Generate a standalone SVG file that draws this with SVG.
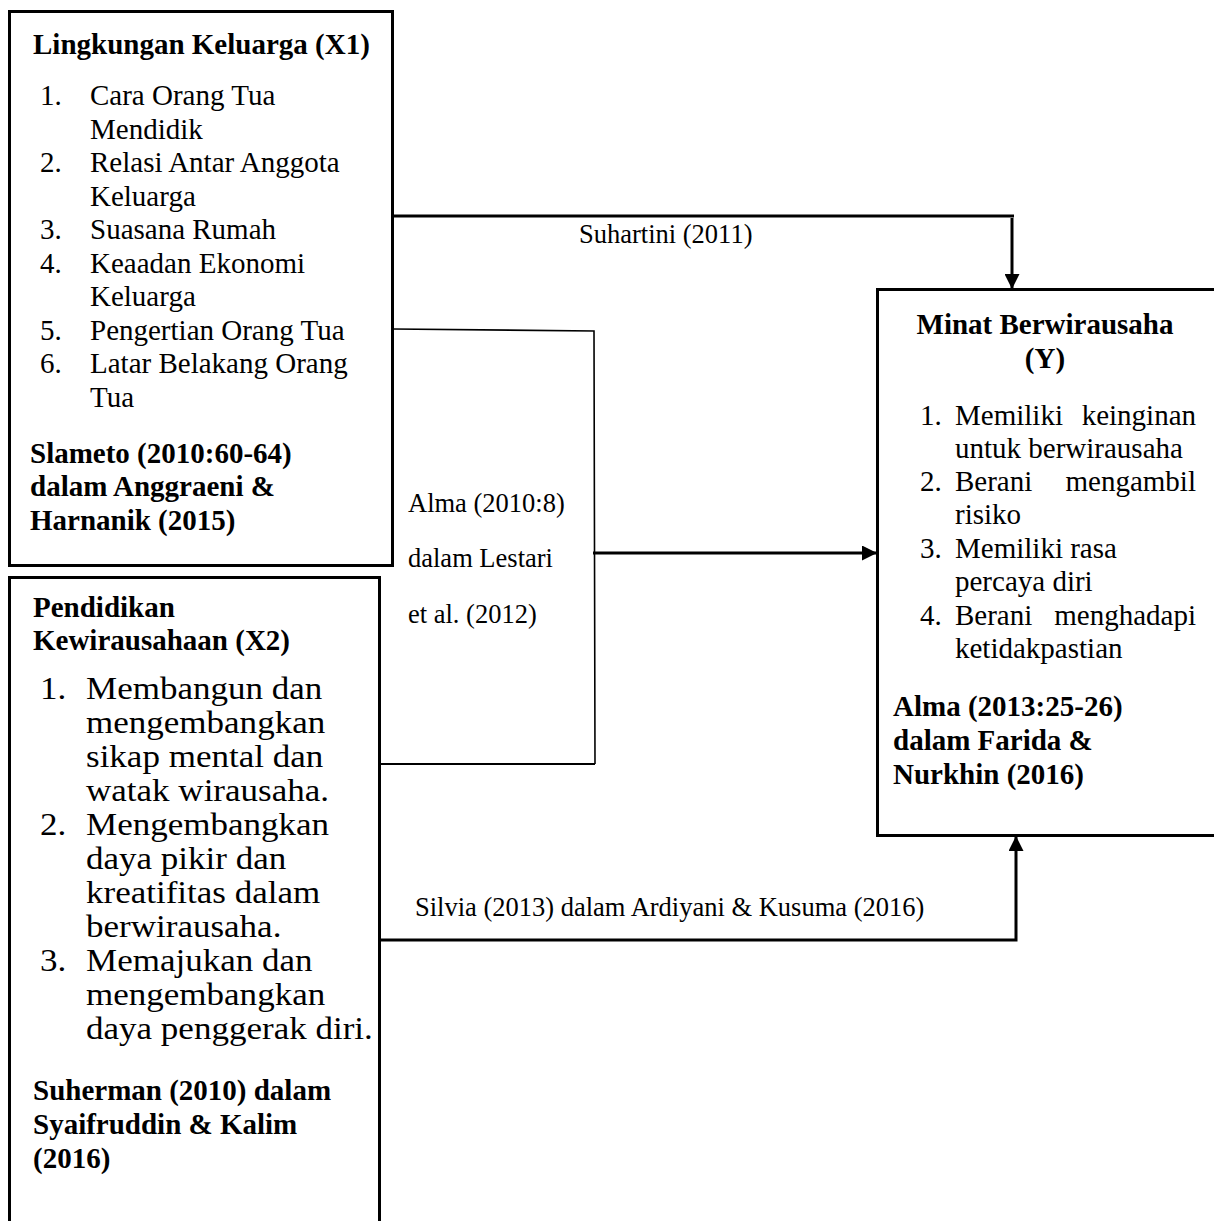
<svg xmlns="http://www.w3.org/2000/svg" width="1214" height="1221" viewBox="0 0 1214 1221">
<style>
text{font-family:"Liberation Serif","Times New Roman",serif;fill:#000}
.t{font-size:29px}
.b{font-size:29px;font-weight:bold}
.big{font-size:31px}
.l{font-size:26.5px}
.box{fill:#fff;stroke:#000;stroke-width:3}
.c{fill:none;stroke:#000;stroke-width:3}
.thin{fill:none;stroke:#000;stroke-width:1.6}
.e{text-anchor:end}
.m{text-anchor:middle}
</style>
<defs>
<marker id="ah" viewBox="0 0 10 10" refX="10" refY="5" markerWidth="5" markerHeight="5" markerUnits="strokeWidth" orient="auto">
<path d="M0,0 L10,5 L0,10 z" fill="#000"/>
</marker>
</defs>
<rect width="1214" height="1221" fill="#fff"/>

<g id="x1">
<rect class="box" x="9.5" y="11.5" width="383" height="554"/>
<text class="b" x="33" y="54">Lingkungan Keluarga (X1)</text>
<text class="t" x="40" y="105">1.</text><text class="t" x="90" y="105">Cara Orang Tua</text>
<text class="t" x="90" y="139">Mendidik</text>
<text class="t" x="40" y="172">2.</text><text class="t" x="90" y="172">Relasi Antar Anggota</text>
<text class="t" x="90" y="206">Keluarga</text>
<text class="t" x="40" y="239">3.</text><text class="t" x="90" y="239">Suasana Rumah</text>
<text class="t" x="40" y="273">4.</text><text class="t" x="90" y="273">Keaadan Ekonomi</text>
<text class="t" x="90" y="306">Keluarga</text>
<text class="t" x="40" y="340">5.</text><text class="t" x="90" y="340">Pengertian Orang Tua</text>
<text class="t" x="40" y="373">6.</text><text class="t" x="90" y="373">Latar Belakang Orang</text>
<text class="t" x="90" y="407">Tua</text>
<text class="b" x="30" y="463">Slameto (2010:60-64)</text>
<text class="b" x="30" y="496">dalam Anggraeni &amp;</text>
<text class="b" x="30" y="530">Harnanik (2015)</text>
</g>

<g id="x2">
<rect class="box" x="9.5" y="577.5" width="370" height="700"/>
<text class="b" x="33" y="617">Pendidikan</text>
<text class="b" x="33" y="650">Kewirausahaan (X2)</text>
<g transform="translate(40 0) scale(1.13 1)">
<text class="big" x="0" y="699">1.</text>
<text class="big" x="0" y="835">2.</text>
<text class="big" x="0" y="971">3.</text>
</g>
<g transform="translate(86 0) scale(1.13 1)">
<text class="big" x="0" y="699">Membangun dan</text>
<text class="big" x="0" y="733">mengembangkan</text>
<text class="big" x="0" y="767">sikap mental dan</text>
<text class="big" x="0" y="801">watak wirausaha.</text>
<text class="big" x="0" y="835">Mengembangkan</text>
<text class="big" x="0" y="869">daya pikir dan</text>
<text class="big" x="0" y="903">kreatifitas dalam</text>
<text class="big" x="0" y="937">berwirausaha.</text>
<text class="big" x="0" y="971">Memajukan dan</text>
<text class="big" x="0" y="1005">mengembangkan</text>
<text class="big" x="0" y="1039">daya penggerak diri.</text>
</g>
<text class="b" x="33" y="1100">Suherman (2010) dalam</text>
<text class="b" x="33" y="1134">Syaifruddin &amp; Kalim</text>
<text class="b" x="33" y="1168">(2016)</text>
</g>

<g id="y">
<rect class="box" x="877.5" y="289.5" width="350" height="546"/>
<text class="b m" x="1045" y="334">Minat Berwirausaha</text>
<text class="b m" x="1045" y="368">(Y)</text>
<text class="t" x="920" y="425">1.</text><text class="t" x="955" y="425">Memiliki</text><text class="t e" x="1196" y="425">keinginan</text>
<text class="t" x="955" y="458">untuk berwirausaha</text>
<text class="t" x="920" y="491">2.</text><text class="t" x="955" y="491">Berani</text><text class="t e" x="1196" y="491">mengambil</text>
<text class="t" x="955" y="524">risiko</text>
<text class="t" x="920" y="558">3.</text><text class="t" x="955" y="558">Memiliki rasa</text>
<text class="t" x="955" y="591">percaya diri</text>
<text class="t" x="920" y="625">4.</text><text class="t" x="955" y="625">Berani</text><text class="t e" x="1196" y="625">menghadapi</text>
<text class="t" x="955" y="658">ketidakpastian</text>
<text class="b" x="893" y="716">Alma (2013:25-26)</text>
<text class="b" x="893" y="750">dalam Farida &amp;</text>
<text class="b" x="893" y="784">Nurkhin (2016)</text>
</g>

<g id="connectors">
<polyline class="c" points="393,216 1014,216"/>
<line class="c" x1="1012" y1="218" x2="1012" y2="289" marker-end="url(#ah)"/>
<polyline class="thin" points="393,329 594,331 595,764"/>
<line class="c" x1="380" y1="764" x2="595" y2="764" style="stroke-width:2.2"/>
<line class="c" x1="593" y1="553" x2="877" y2="553" marker-end="url(#ah)"/>
<polyline class="c" points="380,940 1016,940 1016,836" marker-end="url(#ah)"/>
</g>

<g id="labels">
<text class="l" x="579" y="243">Suhartini (2011)</text>
<text class="l" x="408" y="512">Alma (2010:8)</text>
<text class="l" x="408" y="567">dalam Lestari</text>
<text class="l" x="408" y="623">et al. (2012)</text>
<text class="l" x="415" y="916">Silvia (2013) dalam Ardiyani &amp; Kusuma (2016)</text>
</g>
</svg>
